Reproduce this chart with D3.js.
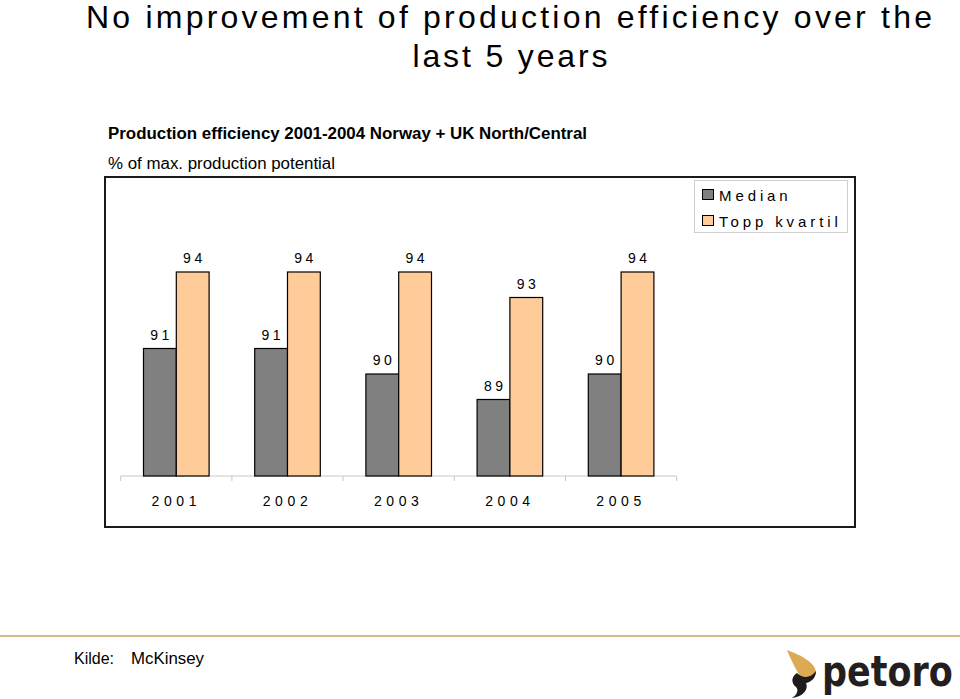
<!DOCTYPE html>
<html>
<head>
<meta charset="utf-8">
<script src="https://cdn.jsdelivr.net/npm/d3@7"></script>
<style>
  html, body { margin: 0; padding: 0; background: #fff; }
  svg { display: block; }
</style>
</head>
<body>
<svg id="chart" width="960" height="699"></svg>
<script>
const years = ["2001", "2002", "2003", "2004", "2005"];
const seriesNames = ["Median", "Topp kvartil"];
const medianValues = [91, 91, 90, 89, 90];
const toppValues = [94, 94, 94, 93, 94];
const seriesColors = ["#808080", "#FFCC99"];

const svg = d3.select("#chart");
const font = "'Liberation Sans', Arial, Helvetica, sans-serif";

// Title
const title = svg.append("g").attr("font-family", font).attr("fill", "#000");
title.append("text").attr("x", 509).attr("y", 28).attr("text-anchor", "middle")
  .attr("font-size", 32).attr("textLength", 846).attr("lengthAdjust", "spacing")
  .text("No improvement of production efficiency over the");
title.append("text").attr("x", 510).attr("y", 67).attr("text-anchor", "middle")
  .attr("font-size", 32).attr("textLength", 195).attr("lengthAdjust", "spacing")
  .text("last 5 years");

// Subtitles
svg.append("text").attr("x", 108).attr("y", 139).attr("font-family", font)
  .attr("font-size", 16).attr("font-weight", "bold")
  .attr("textLength", 479).attr("lengthAdjust", "spacingAndGlyphs")
  .text("Production efficiency 2001-2004 Norway + UK North/Central");
svg.append("text").attr("x", 108).attr("y", 169).attr("font-family", font)
  .attr("font-size", 16)
  .attr("textLength", 227).attr("lengthAdjust", "spacingAndGlyphs")
  .text("% of max. production potential");

// Frame
svg.append("rect").attr("x", 105).attr("y", 177).attr("width", 750).attr("height", 350)
  .attr("fill", "none").attr("stroke", "#1a1a1a").attr("stroke-width", 2);

// Scales
const x = d3.scaleBand().domain(years).range([120.7, 676.7]).padding(0);
const groupW = 65.6;
const x1 = d3.scaleBand().domain(seriesNames).range([0, groupW]).padding(0);
const y = d3.scaleLinear().domain([86, 94]).range([476, 272]);

const data = years.map((yr, i) => ({ year: yr, values: [medianValues[i], toppValues[i]] }));

const plot = svg.append("g");
// Axis baseline and ticks
plot.append("line").attr("x1", x.range()[0]).attr("x2", x.range()[1])
  .attr("y1", y(86)).attr("y2", y(86)).attr("stroke", "#c8c8c8").attr("stroke-width", 1);
const tickXs = years.map(d => x(d)).concat([x.range()[1]]);
plot.selectAll(".tick").data(tickXs).enter().append("line")
  .attr("x1", d => d).attr("x2", d => d).attr("y1", y(86)).attr("y2", y(86) + 5)
  .attr("stroke", "#c8c8c8").attr("stroke-width", 1);

const groups = plot.selectAll(".grp").data(data).enter().append("g")
  .attr("transform", d => `translate(${x(d.year) + (x.bandwidth() - groupW) / 2},0)`);

groups.selectAll("rect").data(d => d.values.map((v, j) => ({ v, s: seriesNames[j], j })))
  .enter().append("rect")
  .attr("x", d => x1(d.s))
  .attr("y", d => y(d.v))
  .attr("width", x1.bandwidth())
  .attr("height", d => y(86) - y(d.v))
  .attr("fill", d => seriesColors[d.j])
  .attr("stroke", "#000").attr("stroke-width", 1.2);

groups.selectAll("text.val").data(d => d.values.map((v, j) => ({ v, s: seriesNames[j], j })))
  .enter().append("text").attr("class", "val")
  .attr("x", d => x1(d.s) + x1.bandwidth() / 2 + 1.7)
  .attr("y", d => y(d.v) - 9)
  .attr("text-anchor", "middle")
  .attr("font-family", font).attr("font-size", 14).attr("letter-spacing", 3.5)
  .text(d => d.v);

// Year labels
plot.selectAll(".yr").data(years).enter().append("text")
  .attr("x", d => x(d) + x.bandwidth() / 2)
  .attr("y", 506)
  .attr("text-anchor", "middle")
  .attr("font-family", font).attr("font-size", 14).attr("letter-spacing", 4.6)
  .text(d => d);

// Legend
const leg = svg.append("g");
leg.append("rect").attr("x", 694.5).attr("y", 180.5).attr("width", 153).attr("height", 52)
  .attr("fill", "#fff").attr("stroke", "#cfcfcf").attr("stroke-width", 1);
seriesNames.forEach((s, i) => {
  const yy = 189 + i * 26;
  leg.append("rect").attr("x", 702.5).attr("y", yy + 0.5).attr("width", 11).attr("height", 10)
    .attr("fill", seriesColors[i]).attr("stroke", "#000").attr("stroke-width", 1);
  leg.append("text").attr("x", 719).attr("y", yy + 12)
    .attr("font-family", font).attr("font-size", 15).attr("letter-spacing", 3.9)
    .text(s);
});

// Bottom rule
svg.append("line").attr("x1", 0).attr("x2", 960).attr("y1", 636).attr("y2", 636)
  .attr("stroke", "#d9b98c").attr("stroke-width", 2);

// Source
svg.append("text").attr("x", 74).attr("y", 664).attr("font-family", font)
  .attr("font-size", 16).text("Kilde:");
svg.append("text").attr("x", 131).attr("y", 664).attr("font-family", font)
  .attr("font-size", 16).attr("textLength", 73).attr("lengthAdjust", "spacingAndGlyphs")
  .text("McKinsey");

// Logo
const logo = svg.append("g");
logo.append("path")
  .attr("d", "M787,650 C800,655 815,662 816,672 C815,680 805,682 800,676 C795,668 790,658 787,650 Z")
  .attr("fill", "#dcaa55");
logo.append("path")
  .attr("d", "M797,673 C791,677 791,683 796,687 C799,690 797,695 792,698 C802,697 809,690 806,683 C812,682 816,677 816,671 C811,678 803,679 797,673 Z")
  .attr("fill", "#1f1b1c");
logo.append("g").attr("transform", "translate(822,686) scale(1,1.2)")
  .append("text").attr("x", 0).attr("y", 0)
  .attr("font-family", "'DejaVu Sans', sans-serif").attr("font-weight", "bold")
  .attr("font-size", 35).attr("fill", "#231f20")
  .text("petoro");
</script>
</body>
</html>
